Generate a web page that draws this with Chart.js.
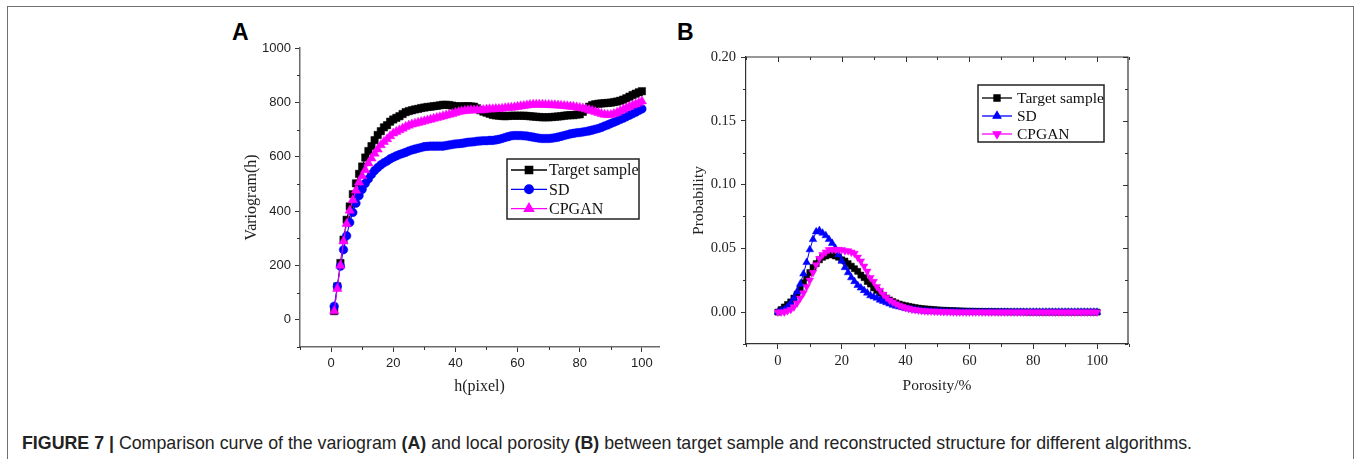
<!DOCTYPE html>
<html>
<head>
<meta charset="utf-8">
<script src="https://cdn.jsdelivr.net/npm/chart.js@4.4.0/dist/chart.umd.min.js"></script>
<style>
  body { margin: 0; background: #fff; width: 1356px; height: 459px; position: relative; overflow: hidden; font-family: "Liberation Sans", Arial, sans-serif; }
  #frame { position: absolute; left: 7px; top: 6px; width: 1345px; height: 480px; border: 1px solid #707070; }
  .tag { position: absolute; font-weight: bold; font-size: 23px; color: #000; line-height: 23px; }
  #wrapA { position: absolute; left: 220px; top: 30px; width: 450px; height: 380px; }
  #wrapB { position: absolute; left: 670px; top: 30px; width: 470px; height: 380px; }
  #caption { position: absolute; left: 22px; top: 433px; font-size: 19px; line-height: 20px; color: #222; white-space: nowrap; transform-origin: 0 0; }
</style>
</head>
<body>
<div id="frame"></div>
<div class="tag" style="left:232px;top:21px">A</div>
<div class="tag" style="left:677px;top:21px">B</div>
<div id="wrapA"><canvas id="chartA" width="450" height="380"></canvas></div>
<div id="wrapB"><canvas id="chartB" width="470" height="380"></canvas></div>
<div id="caption"><b>FIGURE 7 |</b> Comparison curve of the variogram <b>(A)</b> and local porosity <b>(B)</b> between target sample and reconstructed structure for different algorithms.</div>
<script>
// ---- panel A : variogram, h = 1..100 ----
var lagsA = [];
for (var i = 1; i <= 100; i++) lagsA.push(i);

var targetA = [32, 123, 209, 295, 368, 417, 462, 502, 537, 564,
  597, 621, 639, 661, 680, 694, 708, 716, 729, 737,
  743, 749, 757, 764, 768, 771, 774, 776, 779, 781,
  783, 784, 786, 787, 789, 791, 791, 790, 788, 786,
  785, 785, 786, 786, 785, 784, 778, 771, 766, 762,
  758, 754, 752, 751, 750, 749, 750, 751, 751, 751,
  751, 751, 750, 749, 748, 747, 746, 745, 745, 745,
  746, 747, 748, 749, 751, 752, 753, 753, 755, 756,
  765, 775, 784, 790, 793, 795, 796, 797, 798, 799,
  801, 803, 806, 810, 815, 821, 827, 832, 837, 841];

var sdA = [50, 123, 197, 258, 309, 358, 395, 429, 457, 480,
  502, 518, 535, 549, 560, 570, 578, 584, 592, 598,
  603, 608, 612, 616, 621, 625, 628, 631, 634, 637,
  638, 639, 639, 639, 639, 639, 641, 643, 645, 647,
  648, 649, 651, 653, 654, 655, 657, 658, 659, 659,
  660, 660, 662, 664, 667, 671, 674, 677, 678, 678,
  678, 677, 676, 674, 672, 670, 668, 667, 667, 667,
  668, 670, 672, 675, 678, 681, 684, 686, 688, 689,
  691, 693, 695, 698, 701, 704, 708, 713, 717, 722,
  727, 732, 737, 742, 747, 753, 758, 764, 770, 776];

var cpganA = [32, 114, 200, 289, 353, 402, 441, 476, 506, 529,
  551, 576, 594, 612, 627, 643, 655, 665, 676, 686,
  692, 698, 704, 710, 715, 719, 722, 725, 728, 731,
  734, 737, 740, 743, 746, 749, 752, 755, 758, 762,
  765, 767, 769, 770, 771, 771, 771, 771, 772, 774,
  775, 775, 776, 776, 777, 779, 780, 781, 782, 784,
  786, 787, 789, 791, 792, 792, 792, 792, 791, 791,
  790, 790, 789, 788, 787, 786, 785, 784, 782, 780,
  778, 775, 772, 769, 765, 762, 758, 755, 754, 754,
  758, 762, 768, 774, 779, 784, 789, 793, 798, 804];

var xTicksA = [0, 20, 40, 60, 80, 100];
var xMinorA = [-10, 10, 30, 50, 70, 90];
var yTicksA = [0, 200, 400, 600, 800, 1000];
var yMinorA = [-100, 100, 300, 500, 700, 900];

// ---- panel B : local porosity distribution, porosity = 0..100 % ----
var porosityB = [];
for (var j = 0; j <= 100; j++) porosityB.push(j);

var targetB = [0, 0.002, 0.004, 0.006, 0.008, 0.011, 0.014, 0.018, 0.023, 0.027,
  0.031, 0.035, 0.038, 0.041, 0.043, 0.044, 0.045, 0.045, 0.044, 0.043,
  0.041, 0.040, 0.038, 0.036, 0.034, 0.032, 0.029, 0.027, 0.024, 0.022,
  0.019, 0.017, 0.015, 0.013, 0.011, 0.0095, 0.0083, 0.0072, 0.0063, 0.0056,
  0.005, 0.0045, 0.004, 0.0035, 0.0031, 0.0028, 0.0025, 0.0023, 0.0021, 0.0019,
  0.0017, 0.0015, 0.0014, 0.0013, 0.0012, 0.0011, 0.001, 0.0009, 0.0008, 0.0007,
  0.0006, 0.0006, 0.0005, 0.0005, 0.0004, 0.0004, 0.0003, 0.0003, 0.0003, 0.0002,
  0.0002, 0.0002, 0.0002, 0.0001, 0.0001, 0.0001, 0.0001, 0.0001, 0, 0,
  0, 0, 0, 0, 0, 0, 0, 0, 0, 0,
  0, 0, 0, 0, 0, 0, 0, 0, 0, 0, 0];

var sdB = [0, 0.001, 0.002, 0.004, 0.007, 0.011, 0.016, 0.022, 0.030, 0.039,
  0.049, 0.057, 0.063, 0.064, 0.062, 0.060, 0.057, 0.054, 0.050, 0.045,
  0.040, 0.035, 0.031, 0.027, 0.024, 0.021, 0.019, 0.017, 0.015, 0.013,
  0.012, 0.011, 0.0095, 0.0085, 0.0075, 0.0065, 0.0055, 0.0048, 0.0042, 0.0036,
  0.003, 0.0025, 0.0021, 0.0017, 0.0014, 0.0011, 0.0009, 0.0007, 0.0006, 0.0005,
  0.0004, 0.0003, 0.0003, 0.0002, 0.0002, 0.0001, 0.0001, 0, 0, 0,
  0, 0, 0, 0, 0, 0, 0, 0, 0, 0,
  0, 0, 0, 0, 0, 0, 0, 0, 0, 0,
  0, 0, 0, 0, 0, 0, 0, 0, 0, 0,
  0, 0, 0, 0, 0, 0, 0, 0, 0, 0, 0];

var cpganB = [0, 0, 0, 0.001, 0.002, 0.004, 0.007, 0.011, 0.015, 0.020,
  0.025, 0.031, 0.037, 0.042, 0.045, 0.047, 0.049, 0.049, 0.049, 0.049,
  0.049, 0.048, 0.048, 0.047, 0.046, 0.043, 0.040, 0.036, 0.032, 0.027,
  0.024, 0.020, 0.017, 0.014, 0.0115, 0.0093, 0.0078, 0.0064, 0.0052, 0.0042,
  0.0034, 0.0028, 0.0022, 0.0018, 0.0015, 0.0012, 0.001, 0.0008, 0.0007, 0.0006,
  0.0005, 0.0004, 0.0003, 0.0002, 0.0002, 0.0001, 0, 0, 0, 0,
  0, 0, 0, 0, 0, 0, 0, 0, 0, 0,
  0, 0, 0, 0, 0, 0, 0, 0, 0, 0,
  0, 0, 0, 0, 0, 0, 0, 0, 0, 0,
  0, 0, 0, 0, 0, 0, 0, 0, 0, 0, 0];

var xTicksB = [0, 20, 40, 60, 80, 100];
var xMinorB = [-10, 10, 30, 50, 70, 90, 110];
var yTicksB = [0, 0.05, 0.10, 0.15, 0.20];
var yMinorB = [-0.025, 0.025, 0.075, 0.125, 0.175];

var serif = "'Liberation Serif', 'Times New Roman', serif";
var sans = "'Liberation Sans', Arial, sans-serif";

function pts(xs, ys) {
  return xs.map(function (x, k) { return { x: x, y: ys[k] }; });
}

function setTicks(vals) {
  return function (scale) { scale.ticks = vals.map(function (v) { return { value: v }; }); };
}

// minor ticks, and for panel B the closed box with inward ticks on top/right
var axisTicks = {
  id: "axisTicks",
  afterDraw: function (chart, args, o) {
    var ctx = chart.ctx, a = chart.chartArea, x = chart.scales.x, y = chart.scales.y;
    ctx.save();
    ctx.strokeStyle = o.color;
    ctx.lineWidth = 1;
    ctx.beginPath();
    o.xMinor.forEach(function (v) {
      var px = Math.round(x.getPixelForValue(v)) + 0.5;
      ctx.moveTo(px, a.bottom); ctx.lineTo(px, a.bottom + 3);
    });
    o.yMinor.forEach(function (v) {
      var py = Math.round(y.getPixelForValue(v)) + 0.5;
      ctx.moveTo(a.left, py); ctx.lineTo(a.left - 3, py);
    });
    if (o.box) {
      o.xMajor.concat(o.xMinor).forEach(function (v) {
        var px = Math.round(x.getPixelForValue(v)) + 0.5;
        ctx.moveTo(px, a.top); ctx.lineTo(px, a.top + (o.xMajor.indexOf(v) >= 0 ? 5 : 3));
      });
      o.yMajor.concat(o.yMinor).forEach(function (v) {
        var py = Math.round(y.getPixelForValue(v)) + 0.5;
        ctx.moveTo(a.right, py); ctx.lineTo(a.right - (o.yMajor.indexOf(v) >= 0 ? 5 : 3), py);
      });
    }
    ctx.stroke();
    if (o.box) {
      ctx.lineWidth = 1.2;
      ctx.strokeStyle = o.boxColor;
      ctx.beginPath();
      ctx.moveTo(a.left, a.top); ctx.lineTo(a.right, a.top); ctx.lineTo(a.right, a.bottom);
      ctx.stroke();
    }
    ctx.restore();
  }
};

var boxLegend = {
  id: "boxLegend",
  afterDraw: function (chart, args, o) {
    var ctx = chart.ctx;
    ctx.save();
    ctx.lineWidth = 1.5;
    ctx.strokeStyle = "#222";
    ctx.strokeRect(o.x, o.y, o.w, o.h);
    chart.data.datasets.forEach(function (ds, i) {
      var cy = o.y + o.first + i * o.step;
      ctx.strokeStyle = ds.borderColor;
      ctx.lineWidth = 1.3;
      ctx.beginPath();
      ctx.moveTo(o.x + 4, cy); ctx.lineTo(o.x + 4 + o.line, cy);
      ctx.stroke();
      ctx.fillStyle = ds.pointBackgroundColor;
      ctx.strokeStyle = ds.pointBackgroundColor;
      Chart.helpers.drawPoint(ctx, {
        pointStyle: ds.pointStyle, radius: ds.pointRadius,
        rotation: ds.pointRotation || 0, borderWidth: 0.5
      }, o.x + 4 + o.line / 2, cy);
      ctx.fillStyle = "#111";
      ctx.font = o.font;
      ctx.textBaseline = "middle";
      ctx.fillText(ds.label, o.x + o.textX, cy + 1);
    });
    ctx.restore();
  }
};

function series(label, color, style, r, data, order, rot) {
  return {
    label: label, data: data, order: order,
    borderColor: color, backgroundColor: color,
    pointBackgroundColor: color, pointBorderColor: color,
    pointStyle: style, pointRadius: r, pointBorderWidth: 0.5,
    pointRotation: rot || 0, borderWidth: 1, tension: 0
  };
}

new Chart(document.getElementById("chartA"), {
  type: "line",
  data: {
    datasets: [
      series("Target sample", "#000000", "rect", 5.2, pts(lagsA, targetA), 3),
      series("SD", "#0000ff", "circle", 4.3, pts(lagsA, sdA), 2),
      series("CPGAN", "#ff00ff", "triangle", 5.4, pts(lagsA, cpganA), 1)
    ]
  },
  options: {
    responsive: false,
    animation: false,
    layout: { padding: { top: 18, right: 11, left: 0, bottom: 0 } },
    plugins: {
      legend: { display: false },
      tooltip: { enabled: false },
      axisTicks: { color: "#333", xMinor: xMinorA, yMinor: yMinorA, box: false },
      boxLegend: { x: 287, y: 129, w: 132, h: 60, first: 11, step: 19.3, line: 36, textX: 42, font: "16px " + serif }
    },
    scales: {
      x: {
        type: "linear", min: -10, max: 105.5,
        afterBuildTicks: setTicks(xTicksA),
        afterFit: function (s) { s.height = 63; },
        grid: { drawOnChartArea: false, drawTicks: true, tickLength: 5, color: "#333" },
        border: { display: true, color: "#6a6a6a", width: 1.5 },
        ticks: { font: { family: sans, size: 13 }, color: "#222", padding: 4, maxRotation: 0, callback: function (v) { return String(v); } },
        title: { display: true, text: "h(pixel)", font: { family: serif, size: 16 }, color: "#222", padding: { top: 0, bottom: 14 } }
      },
      y: {
        type: "linear", min: -100, max: 1000,
        afterBuildTicks: setTicks(yTicksA),
        afterFit: function (s) { s.width = 80; },
        grid: { drawOnChartArea: false, drawTicks: true, tickLength: 5, color: "#333" },
        border: { display: true, color: "#6a6a6a", width: 1.5 },
        ticks: { font: { family: sans, size: 13 }, color: "#222", padding: 4, callback: function (v) { return String(v); } },
        title: { display: true, text: "Variogram(h)", font: { family: serif, size: 16 }, color: "#222", padding: { top: 22, bottom: 0 } }
      }
    }
  },
  plugins: [axisTicks, boxLegend]
});

new Chart(document.getElementById("chartB"), {
  type: "line",
  data: {
    datasets: [
      series("Target sample", "#000000", "rect", 4.3, pts(porosityB, targetB), 3),
      series("SD", "#0000ff", "triangle", 4.4, pts(porosityB, sdB), 2),
      series("CPGAN", "#ff00ff", "triangle", 4.4, pts(porosityB, cpganB), 1, 180)
    ]
  },
  options: {
    responsive: false,
    animation: false,
    layout: { padding: { top: 27, right: 12, left: 0, bottom: 0 } },
    plugins: {
      legend: { display: false },
      tooltip: { enabled: false },
      axisTicks: { color: "#333", boxColor: "#333", xMinor: xMinorB, yMinor: yMinorB, xMajor: xTicksB, yMajor: yTicksB, box: true },
      boxLegend: { x: 308, y: 55, w: 126, h: 57, first: 13, step: 18, line: 30, textX: 39, font: "15.5px " + serif }
    },
    scales: {
      x: {
        type: "linear", min: -10, max: 109.7,
        afterBuildTicks: setTicks(xTicksB),
        afterFit: function (s) { s.height = 66; },
        grid: { drawOnChartArea: false, drawTicks: true, tickLength: 5, color: "#333" },
        border: { display: true, color: "#333", width: 1.2 },
        ticks: { font: { family: serif, size: 14.5 }, color: "#222", padding: 3, maxRotation: 0, callback: function (v) { return String(v); } },
        title: { display: true, text: "Porosity/%", font: { family: serif, size: 15.5 }, color: "#222", padding: { top: 0, bottom: 15 } }
      },
      y: {
        type: "linear", min: -0.025, max: 0.20,
        afterBuildTicks: setTicks(yTicksB),
        afterFit: function (s) { s.width = 76; },
        grid: { drawOnChartArea: false, drawTicks: true, tickLength: 5, color: "#333" },
        border: { display: true, color: "#333", width: 1.2 },
        ticks: { font: { family: serif, size: 14.5 }, color: "#222", padding: 5, callback: function (v) { return v.toFixed(2); } },
        title: { display: true, text: "Probability", font: { family: serif, size: 15.5 }, color: "#222", padding: { top: 20, bottom: 0 } }
      }
    }
  },
  plugins: [axisTicks, boxLegend]
});

// stretch caption to the reference text width
var cap = document.getElementById("caption");
cap.style.transform = "scaleX(" + (1170 / cap.scrollWidth) + ")";
</script>
</body>
</html>
